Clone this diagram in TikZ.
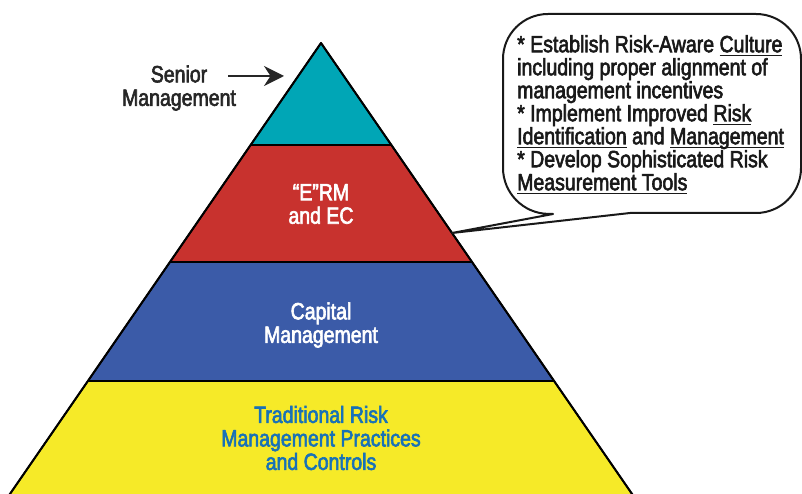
\documentclass[tikz,border=0pt]{standalone}
\usepackage{fontspec}
\setmainfont{Liberation Sans}[FakeStretch=0.83,FakeBold=2.5]
\usetikzlibrary{arrows.meta}
\definecolor{teal1}{RGB}{0,166,182}
\definecolor{red1}{RGB}{200,50,46}
\definecolor{blue1}{RGB}{59,91,168}
\definecolor{yellow1}{RGB}{246,234,40}
\definecolor{txtblue}{RGB}{24,113,183}
\newcommand\myul[1]{\setbox0\hbox{#1}\rlap{\rule[-4pt]{\wd0}{1.7pt}}\box0\relax}
\tikzset{
  lbl/.style={align=center,font=\fontsize{23.5}{23.5}\selectfont,inner sep=0pt},
  layer/.style={draw=black,line width=1.6pt,line join=round},
}
\begin{document}
\begin{tikzpicture}[x=1pt,y=-1pt]
\useasboundingbox (0,0) rectangle (802,494);
\clip (0,0) rectangle (802,494);
% pyramid layers
\coordinate (apex) at (321,43);
\filldraw[layer,fill=yellow1] (88,381) -- (554,381) -- (650,520) -- (-8,520) -- cycle;
\filldraw[layer,fill=blue1] (170,262) -- (472,262) -- (554,381) -- (88,381) -- cycle;
\filldraw[layer,fill=red1] (250.6,145) -- (391.4,145) -- (472,262) -- (170,262) -- cycle;
\filldraw[layer,fill=teal1] (apex) -- (391.4,145) -- (250.6,145) -- cycle;
\draw[line width=2pt,line join=round] (-8,520) -- (apex) -- (650,520);
% labels
\node[lbl,text=white] (erm) at (321,204) {“E”RM\\and EC};
\node[lbl,text=white] (cap) at (321,325) {Capital\\Management};
\node[lbl,text=txtblue] (trad) at (321,438) {Traditional Risk\\Management Practices\\and Controls};
\node[lbl,text=black!85] (senior) at (179,88) {Senior\\Management};
\coordinate (arrS) at (228,76);
\coordinate (arrE) at (284,76);
\draw[line width=2pt,-{Stealth[length=20pt,width=20pt]},black!85] (arrS) -- (arrE);
% callout
\coordinate (tip) at (452,233);
\filldraw[fill=white,draw=black!90,line width=2pt,line join=round]
  [rounded corners=45pt] (630,213) -- (801,213) -- (801,14) -- (503,14) -- (503,213)
  [sharp corners] -- (553,214) -- (tip) -- cycle;
\node[lbl,align=left,anchor=north west,text=black!90,font=\fontsize{23.5}{23}\selectfont] (callout) at (517,35)
{* Establish Risk-Aware \myul{Culture}\\
including proper alignment of\\
management incentives\\
* Implement Improved \myul{Risk}\\
\myul{Identification} and \myul{Management}\\
* Develop Sophisticated Risk\\
\myul{Measurement Tools}};
\end{tikzpicture}
\end{document}
